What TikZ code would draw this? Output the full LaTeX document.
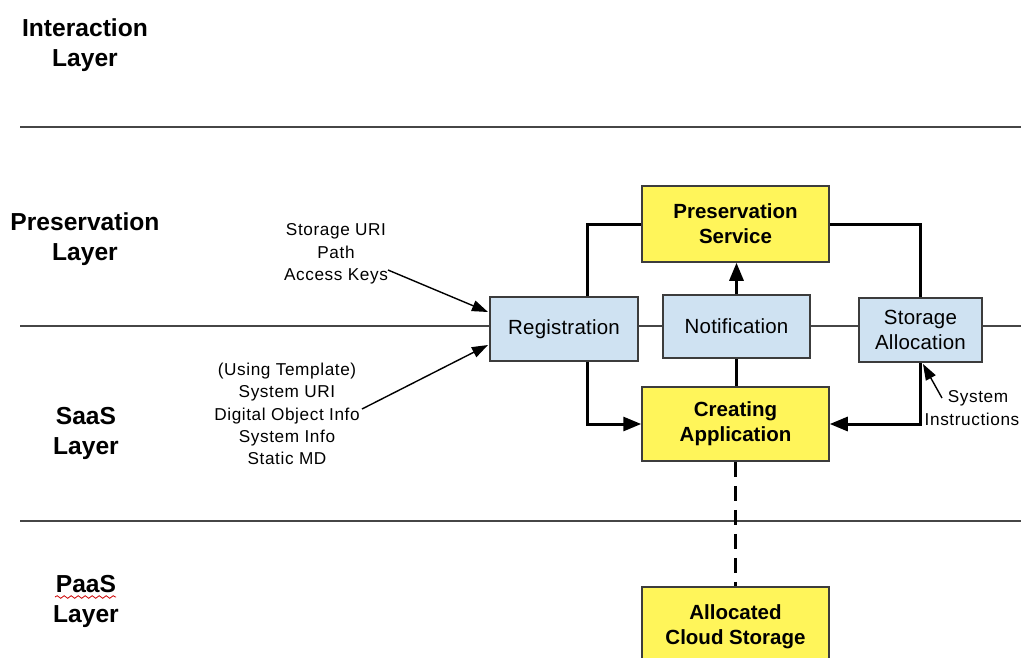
\documentclass[tikz,border=0pt]{standalone}
\usepackage{fontspec}
\setmainfont{Liberation Sans}
\usetikzlibrary{arrows.meta,decorations.pathmorphing}
\definecolor{boxyellow}{RGB}{255,245,90}
\definecolor{boxblue}{RGB}{207,226,242}
\definecolor{edgegray}{RGB}{60,60,60}
\definecolor{rulegray}{RGB}{70,70,70}
\tikzset{
  layerlabel/.style={font=\fontsize{24.6}{30}\selectfont\bfseries, align=center, inner sep=0pt},
  smalllabel/.style={font=\fontsize{17.2}{22.4}\selectfont\addfontfeature{LetterSpace=3.5}, align=center, inner sep=0pt},
  yellowbox/.style={draw=edgegray, line width=1.5pt, fill=boxyellow, align=center,
    font=\fontsize{20.5}{25}\selectfont\bfseries, inner sep=0pt},
  bluebox/.style={draw=edgegray, line width=1.5pt, fill=boxblue, align=center,
    font=\fontsize{20.5}{25}\selectfont\addfontfeature{LetterSpace=1}, inner sep=0pt},
  layerrule/.style={draw=rulegray, line width=1.8pt},
  thickconn/.style={draw=black, line width=3pt},
  thickarrow/.style={thickconn, -{Triangle[length=18pt,width=14pt]}},
  thinarrow/.style={draw=black, line width=1.4pt, -{Triangle[length=16pt,width=11pt]}},
  dashconn/.style={draw=black, line width=3pt, dash pattern=on 15pt off 9pt}
}
\begin{document}
\begin{tikzpicture}[x=1pt,y=-1pt]
\useasboundingbox (0,0) rectangle (1021,657);
\clip (0,0) rectangle (1021,657);
% layer rules
\coordinate (r1a) at (20,127); \coordinate (r1b) at (1021,127);
\coordinate (r2a) at (20,326); \coordinate (r2b) at (1021,326);
\coordinate (r3a) at (20,521); \coordinate (r3b) at (1021,521);
\draw[layerrule] (r1a) -- (r1b);
\draw[layerrule] (r2a) -- (r2b);
\draw[layerrule] (r3a) -- (r3b);
% layer labels
\node[layerlabel] (lint) at (85,45) {Interaction\\Layer};
\node[layerlabel] (lpres) at (85,239) {Preservation\\Layer};
\node[layerlabel] (lsaas) at (86,433) {SaaS\\Layer};
\node[layerlabel] (lpaas) at (86,601) {PaaS\\Layer};
\coordinate (sqa) at (55,597); \coordinate (sqb) at (116,597);
\draw[red!80!black, line width=0.8pt, decorate, decoration={snake, amplitude=1.3pt, segment length=7pt}] (sqa) -- (sqb);
% boxes
\node[yellowbox, minimum width=187pt, minimum height=76pt] (ps) at (735.5,224) {Preservation\\Service};
\node[bluebox, minimum width=148pt, minimum height=64pt] (reg) at (564,329) {Registration};
\node[bluebox, minimum width=147pt, minimum height=63pt] (nt) at (736.5,326.5) {Notification};
\node[bluebox, minimum width=123pt, minimum height=64pt] (sa) at (920.5,330) {Storage\\Allocation};
\node[yellowbox, minimum width=187pt, minimum height=74pt] (ca) at (735.5,424) {Creating\\Application};
\node[yellowbox, minimum width=187pt, minimum height=80pt] (ac) at (735.5,627) {Allocated\\Cloud Storage};
% connectors
\coordinate (rx) at (587,0);
\draw[thickconn] (reg.north -| rx) |- (ps.west);
\draw[thickconn] (ps.east) -| (sa.north);
\draw[thickarrow] (nt.north) -- (nt.north |- ps.south);
\draw[thickconn] (nt.south) -- (nt.south |- ca.north);
\draw[thickarrow] (reg.south -| rx) |- (ca.west);
\draw[thickarrow] (sa.south) |- (ca.east);
\draw[dashconn] (ca.south) -- (ac.north);
% input labels
\node[smalllabel] (keys) at (336,254) {Storage URI\\Path\\Access Keys};
\node[smalllabel] (tmpl) at (287,414) {(Using Template)\\System URI\\Digital Object Info\\System Info\\Static MD};
\node[smalllabel] (sysi) at (972,408) {\hspace*{12pt}System\\Instructions};
\coordinate (k1) at (388,270); \coordinate (k2) at (488,312);
\coordinate (t1) at (362,409); \coordinate (t2) at (488,345);
\coordinate (s1) at (942,398); \coordinate (s2) at (923,364);
\draw[thinarrow] (k1) -- (k2);
\draw[thinarrow] (t1) -- (t2);
\draw[thinarrow] (s1) -- (s2);
\end{tikzpicture}
\end{document}
